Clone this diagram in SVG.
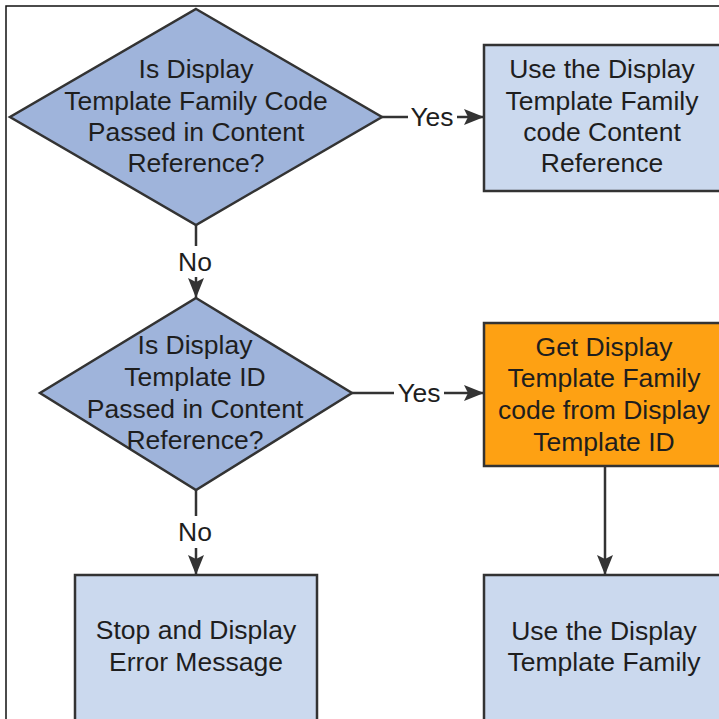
<svg xmlns="http://www.w3.org/2000/svg" width="719" height="719" viewBox="0 0 719 719">
  <defs>
    <marker id="arrow" markerUnits="userSpaceOnUse" markerWidth="20" markerHeight="16" viewBox="0 0 20 16" refX="20" refY="8" orient="auto">
      <path d="M0,0 L20,8 L0,16 L4,8 Z" fill="#333333"/>
    </marker>
    <style>
      .frame { fill: none; stroke: #111111; stroke-width: 1.5; }
      .decision { fill: #9fb4db; stroke: #333333; stroke-width: 2.5; stroke-linejoin: miter; }
      .process { fill: #cbd9ee; stroke: #333333; stroke-width: 2.5; }
      .highlight { fill: #fea113; stroke: #333333; stroke-width: 2.5; }
      .label { font-family: "Liberation Sans", Arial, sans-serif; font-size: 26.5px; fill: #1e1e1e; text-anchor: middle; }
      .edge { fill: none; stroke: #333333; stroke-width: 2.5; }
      .edge-label { font-family: "Liberation Sans", Arial, sans-serif; font-size: 26.5px; fill: #1e1e1e; text-anchor: middle; }
    </style>
  </defs>

  <rect width="719" height="719" fill="#ffffff"/>
  <path class="frame" d="M6,719 V6 H719"/>

  <!-- connectors -->
  <g id="connectors">
    <!-- decision 1 -> Yes -> use family code -->
    <path class="edge" d="M382,117 H408"/>
    <path class="edge" d="M457,117 H484" marker-end="url(#arrow)"/>
    <text class="edge-label" x="432" y="126">Yes</text>
    <!-- decision 1 -> No -> decision 2 -->
    <path class="edge" d="M196,225 V246"/>
    <path class="edge" d="M196,277 V298" marker-end="url(#arrow)"/>
    <text class="edge-label" x="195" y="271">No</text>
    <!-- decision 2 -> Yes -> get family code -->
    <path class="edge" d="M352,393 H394"/>
    <path class="edge" d="M444,393 H484" marker-end="url(#arrow)"/>
    <text class="edge-label" x="419" y="402">Yes</text>
    <!-- decision 2 -> No -> error -->
    <path class="edge" d="M196,490 V516"/>
    <path class="edge" d="M196,548 V575" marker-end="url(#arrow)"/>
    <text class="edge-label" x="195" y="541">No</text>
    <!-- get family code -> use family -->
    <path class="edge" d="M605,466 V575" marker-end="url(#arrow)"/>
  </g>

  <g id="decision-family-code">
    <polygon class="decision" points="196,9 382,117 196,225 10,117"/>
    <text class="label" x="196" y="78">Is Display</text>
    <text class="label" x="196" y="110">Template Family Code</text>
    <text class="label" x="196" y="141">Passed in Content</text>
    <text class="label" x="196" y="172">Reference?</text>
  </g>

  <g id="use-family-code">
    <rect class="process" x="484" y="45" width="240" height="146"/>
    <text class="label" x="602" y="78">Use the Display</text>
    <text class="label" x="602" y="110">Template Family</text>
    <text class="label" x="602" y="141">code Content</text>
    <text class="label" x="602" y="172">Reference</text>
  </g>

  <g id="decision-template-id">
    <polygon class="decision" points="196,298 352,393 196,490 40,393"/>
    <text class="label" x="195" y="354">Is Display</text>
    <text class="label" x="195" y="386">Template ID</text>
    <text class="label" x="195" y="418">Passed in Content</text>
    <text class="label" x="195" y="449">Reference?</text>
  </g>

  <g id="get-family-code">
    <rect class="highlight" x="484" y="323" width="240" height="143"/>
    <text class="label" x="604" y="356">Get Display</text>
    <text class="label" x="604" y="387">Template Family</text>
    <text class="label" x="604" y="419">code from Display</text>
    <text class="label" x="604" y="451">Template ID</text>
  </g>

  <g id="error-message">
    <rect class="process" x="75" y="575" width="242" height="160"/>
    <text class="label" x="196" y="639">Stop and Display</text>
    <text class="label" x="196" y="671">Error Message</text>
  </g>

  <g id="use-family">
    <rect class="process" x="484" y="575" width="240" height="160"/>
    <text class="label" x="604" y="640">Use the Display</text>
    <text class="label" x="604" y="671">Template Family</text>
  </g>
</svg>
